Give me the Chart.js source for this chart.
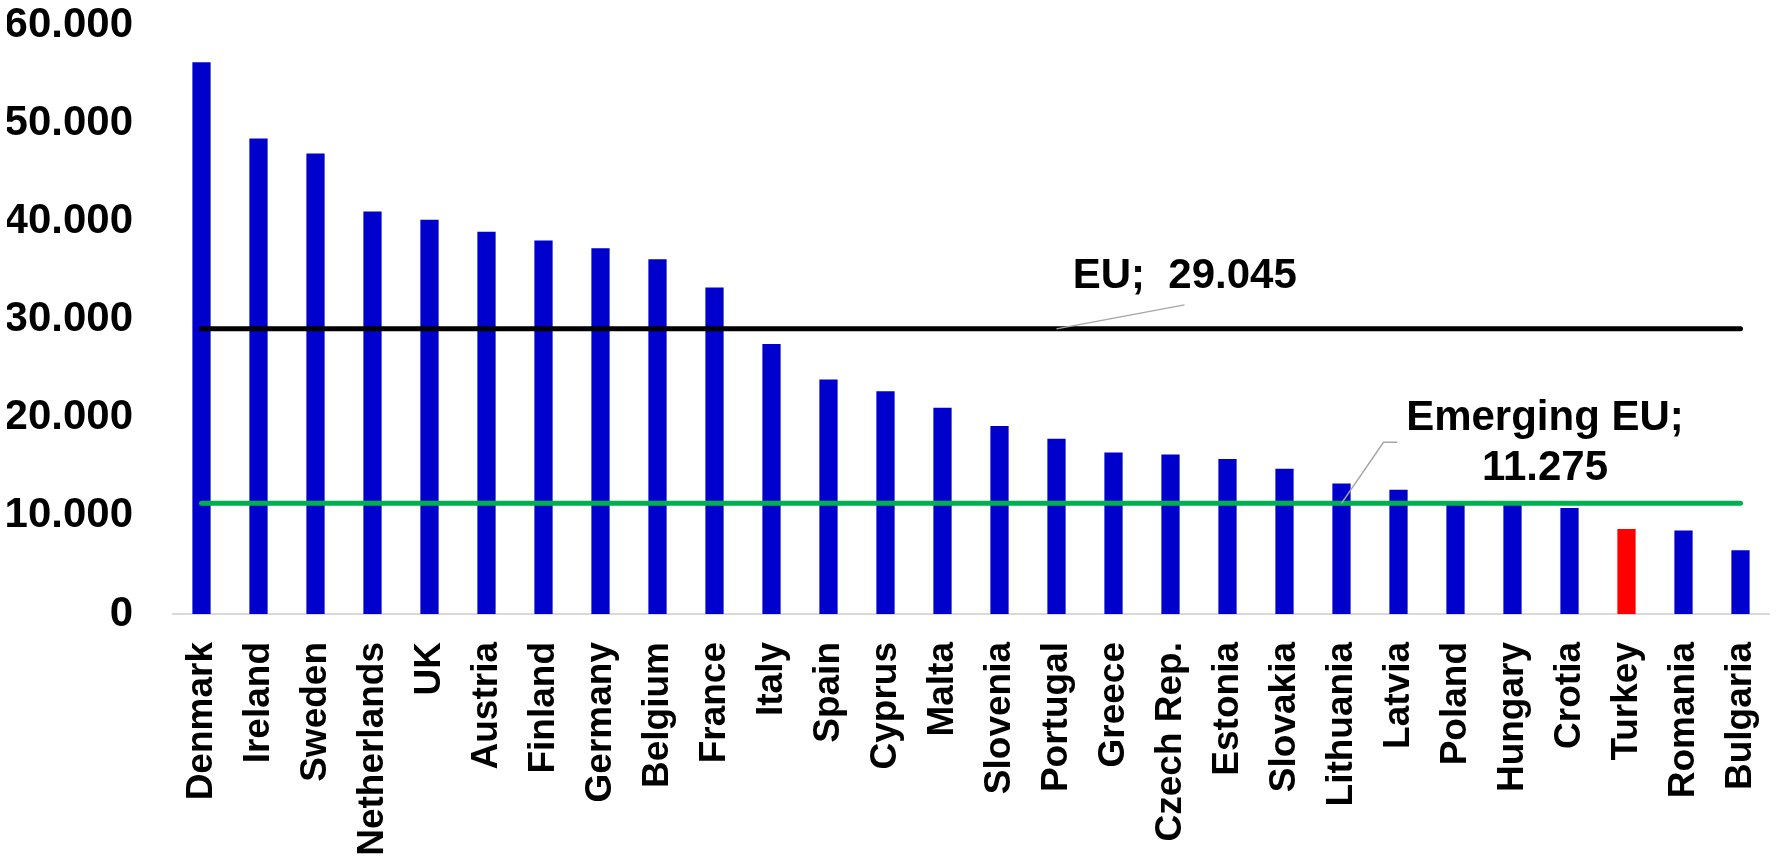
<!DOCTYPE html>
<html>
<head>
<meta charset="utf-8">
<script src="https://cdn.jsdelivr.net/npm/chart.js@4.4.1/dist/chart.umd.min.js"></script>
<style>
  body { margin: 0; background: #fff; }
  canvas { display: block; }
</style>
</head>
<body>
<canvas id="myChart" width="1776" height="857"></canvas>
<script>
let countries = ['Denmark', 'Ireland', 'Sweden', 'Netherlands', 'UK', 'Austria', 'Finland', 'Germany',
    'Belgium', 'France', 'Italy', 'Spain', 'Cyprus', 'Malta', 'Slovenia', 'Portugal', 'Greece',
    'Czech Rep.', 'Estonia', 'Slovakia', 'Lithuania', 'Latvia', 'Poland', 'Hungary', 'Crotia',
    'Turkey', 'Romania', 'Bulgaria'];
let values = [56200, 48450, 46900, 41000, 40150, 38950, 38050, 37250,
    36150, 33250, 27500, 23900, 22700, 21000, 19150, 17850, 16450,
    16250, 15800, 14800, 13300, 12650, 11300, 11200, 10800,
    8650, 8500, 6500];
let yTicks = [0, 10000, 20000, 30000, 40000, 50000, 60000];
let euAvg = 29045;
let emergingAvg = 11275;

let blue = '#0000CC';
let red = '#FF0000';
let colors = countries.map(c => c === 'Turkey' ? red : blue);

let font = 'Liberation Sans, Arial, sans-serif';

// labels with grey leader lines, placed relative to the scales
let calloutPlugin = {
    id: 'callouts',
    afterDatasetsDraw(chart) {
        let ctx = chart.ctx;
        let x = chart.scales.x;
        let y = chart.scales.y;
        let pitch = x.getPixelForValue(1) - x.getPixelForValue(0);

        ctx.save();
        ctx.strokeStyle = '#A6A6A6';
        ctx.lineWidth = 1.5;

        // EU
        let euY = y.getPixelForValue(euAvg);
        let euX = x.getPixelForValue(15);
        ctx.beginPath();
        ctx.moveTo(euX, euY);
        ctx.lineTo(euX + 128, euY - 24);
        ctx.stroke();

        // Emerging EU
        let emY = y.getPixelForValue(emergingAvg);
        let emX = x.getPixelForValue(20);
        ctx.beginPath();
        ctx.moveTo(emX, emY);
        ctx.lineTo(emX + 42, emY - 61);
        ctx.lineTo(emX + 56, emY - 61);
        ctx.stroke();

        ctx.fillStyle = '#000';
        ctx.font = 'bold 42px ' + font;
        ctx.textAlign = 'center';
        ctx.textBaseline = 'middle';
        ctx.fillText('EU;  29.045', x.getPixelForValue(15) + 2.25 * pitch, euY - 52);
        let cx = x.getPixelForValue(23) + 0.57 * pitch;
        ctx.fillText('Emerging EU;', cx, emY - 85);
        ctx.fillText('11.275', cx, emY - 35);
        ctx.restore();
    }
};

let myChart = document.getElementById('myChart').getContext('2d');

let chart = new Chart(myChart, {
    type: 'bar',
    data: {
        labels: countries,
        datasets: [
            {
                type: 'line',
                data: [{x: countries[0], y: euAvg}, {x: countries[countries.length - 1], y: euAvg}],
                borderColor: '#000000',
                borderWidth: 5,
                borderCapStyle: 'round',
                pointRadius: 0,
                order: 1
            },
            {
                type: 'line',
                data: [{x: countries[0], y: emergingAvg}, {x: countries[countries.length - 1], y: emergingAvg}],
                borderColor: '#00B050',
                borderWidth: 5,
                borderCapStyle: 'round',
                pointRadius: 0,
                order: 1
            },
            {
                data: values,
                backgroundColor: colors,
                categoryPercentage: 1,
                barPercentage: 0.32,
                order: 2
            }
        ]
    },
    options: {
        responsive: false,
        animation: false,
        locale: 'de-DE',
        layout: {
            padding: {top: 25, left: 7, right: 7, bottom: 0}
        },
        plugins: {
            legend: {display: false},
            tooltip: {enabled: false}
        },
        scales: {
            x: {
                grid: {display: false},
                border: {display: true, color: '#D9D9D9', width: 2},
                ticks: {
                    color: '#000',
                    font: {family: font, size: 37, weight: 'bold'},
                    minRotation: 90,
                    maxRotation: 90,
                    autoSkip: false,
                    padding: 20
                },
                afterFit: axis => {
                    axis.height = 243;
                    axis.paddingLeft = 0;
                    axis.paddingRight = 0;
                }
            },
            y: {
                min: 0,
                max: 60000,
                afterBuildTicks: axis => { axis.ticks = yTicks.map(v => ({value: v})); },
                grid: {display: false},
                border: {display: false},
                ticks: {
                    color: '#000',
                    font: {family: font, size: 42, weight: 'bold'},
                    padding: 32
                },
                afterFit: axis => {
                    axis.width = 166;
                    axis.paddingTop = 0;
                    axis.paddingBottom = 0;
                }
            }
        }
    },
    plugins: [calloutPlugin]
});
</script>
</body>
</html>
